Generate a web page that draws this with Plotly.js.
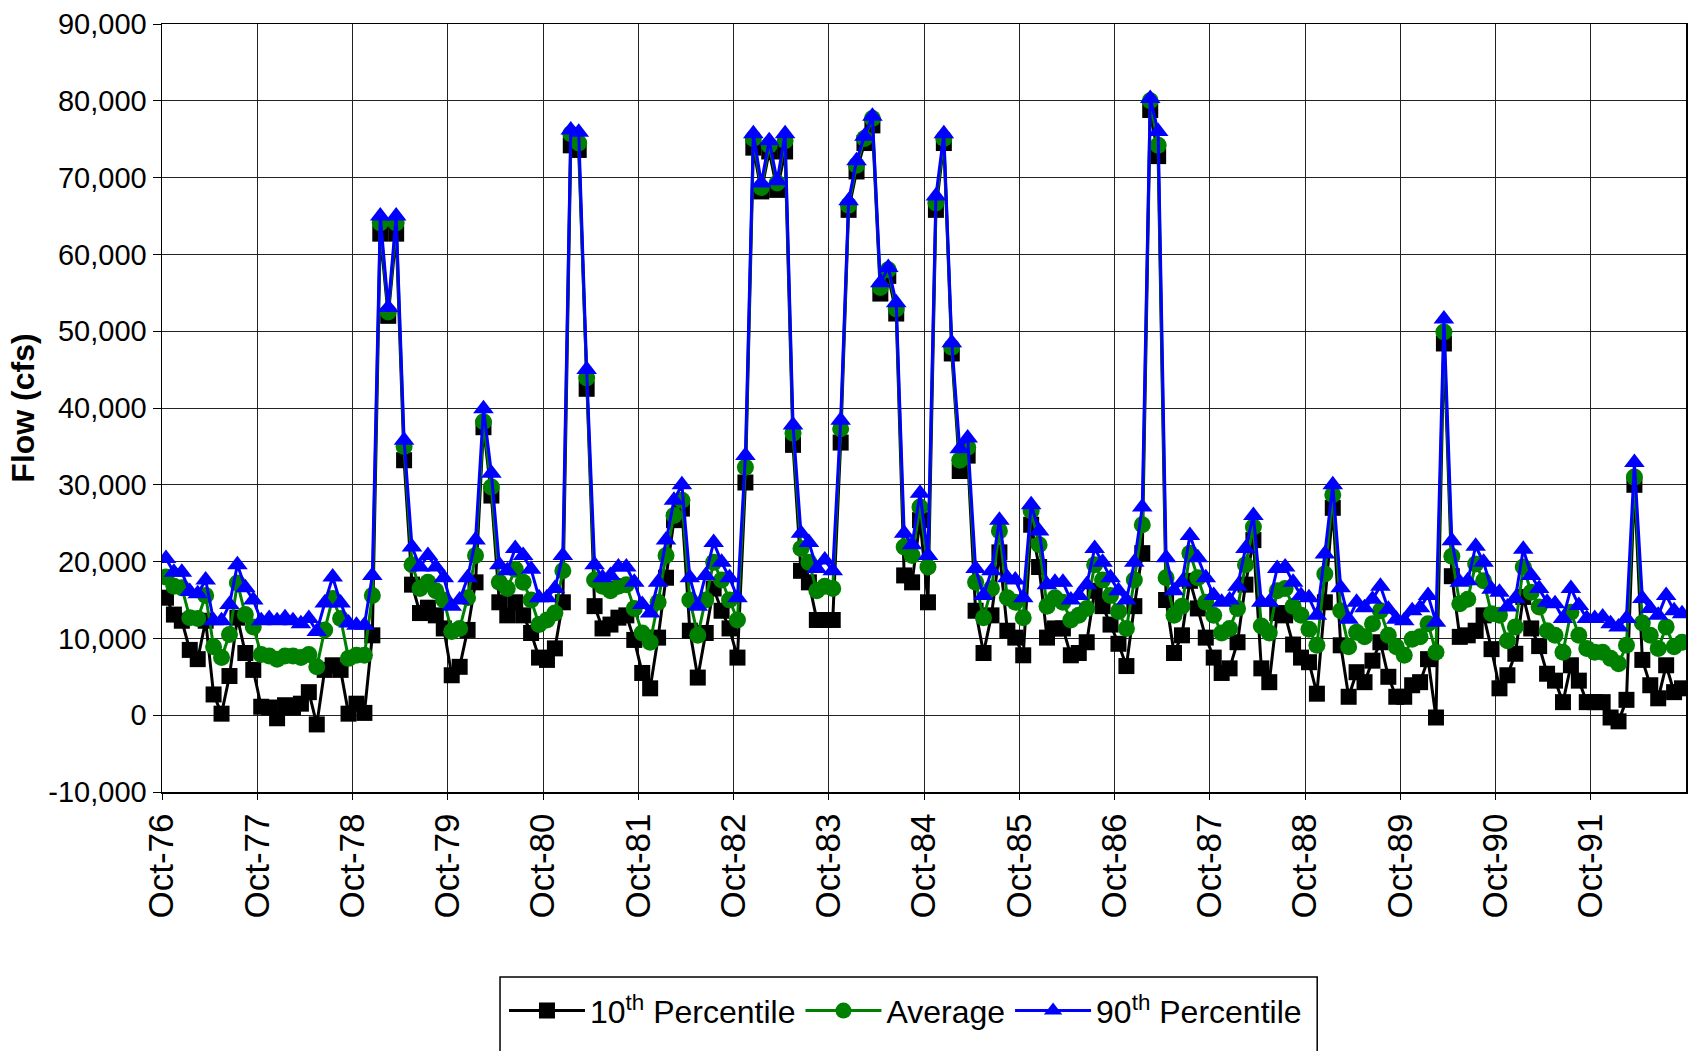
<!DOCTYPE html>
<html>
<head>
<meta charset="utf-8">
<script src="https://cdn.plot.ly/plotly-3.0.1.min.js"></script>
<style>
html,body{margin:0;padding:0;background:#fff;}
#chart{width:1699px;height:1051px;}
</style>
</head>
<body>
<div id="chart"></div>
<script>
// Monthly flow statistics, Oct-76 through Sep-92 (192 months)
const xTickLabels = ['Oct-76','Oct-77','Oct-78','Oct-79','Oct-80','Oct-81','Oct-82','Oct-83',
                     'Oct-84','Oct-85','Oct-86','Oct-87','Oct-88','Oct-89','Oct-90','Oct-91'];

const p10 = [
  15300,13100,12300,8500,7300,12300,2700,200,5100,12700,8100,5900,
  1100,1000,-400,1300,1000,1500,3000,-1200,5900,6500,5900,200,
  1500,300,10400,62700,52000,62700,33200,17000,13300,14000,13000,11300,
  5200,6300,11100,17300,37500,28600,14700,13000,14700,13000,10700,7500,
  7200,8700,14700,74200,73600,42500,14200,11300,11800,12700,13000,9800,
  5500,3500,10100,17900,25400,26900,11000,4900,10700,16500,13600,11300,
  7500,30300,73900,68200,73400,68400,73400,35200,18800,17300,12400,12400,
  12400,35500,65800,70800,74500,76800,54900,57200,52300,18200,17300,25400,
  14700,65800,74500,47100,31800,33800,13600,8100,13000,21200,11000,10100,
  7800,24800,19300,10100,11300,11300,7800,8100,9500,16200,14200,11800,
  9300,6400,14200,21100,78800,72800,15000,8100,10400,17500,13900,10100,
  7500,5500,6100,9500,17000,22800,6100,4300,13300,13000,9200,7500,
  6900,2800,14700,27000,9100,2400,5600,4300,7100,9500,5000,2400,
  2400,3900,4300,7300,-300,48400,18100,10200,10400,11000,13000,8600,
  3500,5200,8000,15400,11300,9000,5400,4500,1700,6500,4500,1700,
  1700,1700,-300,-800,2000,30000,7200,3900,2200,6500,3000,3500
];

const average = [
  18000,16800,16600,12700,12600,15600,8900,7500,10500,17200,13100,11500,
  7900,7700,7300,7700,7700,7500,7900,6300,11100,15200,12600,7400,
  7800,7800,15600,64100,52500,64100,35000,19600,16500,17300,16200,15000,
  10900,11300,15300,20800,38200,29700,17300,16500,19000,17300,15000,11800,
  12400,13300,18800,75700,74500,43900,17600,16800,16200,16800,17000,13900,
  10700,9500,14700,20800,26000,28000,15000,10400,15000,19900,17600,15000,
  12400,32300,75100,68700,74200,69300,74800,36700,21700,19900,16200,16800,
  16500,37300,66400,71600,75100,77700,55700,58000,52900,21900,20800,27100,
  19300,66700,75100,47900,33200,34900,17300,12700,16500,24000,15300,14700,
  12700,26600,22200,14200,15300,14700,12400,13000,13900,19600,17600,15600,
  13500,11300,17600,24800,80000,74200,17900,13000,14200,21100,17900,14700,
  13000,10700,11300,13900,19600,24500,11600,10700,16200,16500,14200,13000,
  11200,9100,18400,28700,13600,8900,10800,10200,11900,13600,10400,8900,
  7800,9900,10200,11900,8200,49900,20700,14500,15100,19700,17500,13200,
  13000,9700,11500,19300,16000,14100,11000,10400,8200,13400,10400,8700,
  8200,8200,7400,6700,9100,31000,12000,10400,8700,11500,8900,9500
];

const p90 = [
  20400,18600,18600,16100,15800,17600,12300,12300,14400,19600,16600,15000,
  12300,12600,12300,12700,12300,11900,12600,10900,14600,18000,14600,12000,
  11700,11700,18200,65000,53100,65000,35800,21900,19300,20800,19300,17900,
  14200,15000,17900,22800,39900,31500,19600,18800,21700,20800,19000,15300,
  15300,16500,20800,76200,75900,45000,19600,17900,18200,19300,19300,17300,
  14400,13300,17300,22800,28000,30000,17900,14200,18200,22500,19900,17900,
  15300,33800,75700,69300,74800,69600,75700,37800,23700,22500,19100,20200,
  18800,38400,67000,72200,75400,78000,56300,58300,53700,23700,22200,28900,
  20800,67600,75700,48500,34700,36100,19100,15600,18800,25400,17900,17600,
  15300,27400,24000,17000,17300,17300,15000,15600,17000,21700,19900,17900,
  16200,15000,19900,27100,80300,76000,20500,16200,17300,23400,20500,17900,
  15600,14700,15000,16800,21700,26000,14700,14700,19100,19300,17300,15600,
  15300,13000,21000,30000,16600,12500,14700,14000,15100,16800,13800,12500,
  12300,13600,14000,15600,12100,51600,22700,17300,17500,22000,19900,16400,
  16000,14100,15200,21600,18200,16500,14700,14500,12600,16500,14300,12600,
  12600,12800,11900,11500,12600,32900,15200,13900,13000,15600,13600,13200
];

const yTickVals = [-10000,0,10000,20000,30000,40000,50000,60000,70000,80000,90000];
const yTickText = ['-10,000','0','10,000','20,000','30,000','40,000','50,000','60,000','70,000','80,000','90,000'];

// month positions on a category-like numeric axis (each month centred in its slot)
const xPos = p10.map((_, i) => i + 0.5);
const xTickVals = xTickLabels.map((_, i) => i * 12);

const FONT = 'Liberation Sans, Arial, sans-serif';

const traces = [
  {
    x: xPos, y: p10, name: '10<sup>th</sup> Percentile', type: 'scatter', mode: 'lines+markers',
    line: {color: '#000000', width: 3},
    marker: {symbol: 'square', size: 16, color: '#000000'}
  },
  {
    x: xPos, y: average, name: 'Average', type: 'scatter', mode: 'lines+markers',
    line: {color: '#008000', width: 3},
    marker: {symbol: 'circle', size: 17, color: '#008000'}
  },
  {
    x: xPos, y: p90, name: '90<sup>th</sup> Percentile', type: 'scatter', mode: 'lines+markers',
    line: {color: '#0000FF', width: 3},
    marker: {symbol: 'triangle-up', size: 18, color: '#0000FF'}
  }
];

const layout = {
  width: 1699, height: 1051,
  paper_bgcolor: '#ffffff', plot_bgcolor: '#ffffff',
  margin: {l: 162, r: 13, t: 24, b: 259, autoexpand: false},
  font: {family: FONT, color: '#000000', size: 30},
  showlegend: true,
  legend: {
    orientation: 'h', x: 0.2244, xanchor: 'left', y: -0.249, yanchor: 'top',
    bgcolor: 'rgba(0,0,0,0)', borderwidth: 0,
    font: {family: FONT, size: 32, color: '#000000'},
    itemwidth: 76, tracegroupgap: 0
  },
  shapes: [{
    type: 'rect', xref: 'paper', yref: 'paper',
    x0: 0.2218, x1: 0.758, y0: -0.2409, y1: -0.36,
    line: {color: '#000000', width: 1.5}, fillcolor: 'rgba(0,0,0,0)', layer: 'below'
  }],
  xaxis: {
    range: [0, 192], tickmode: 'array', tickvals: xTickVals, ticktext: xTickLabels,
    tickangle: -90, tickfont: {family: FONT, size: 35, color: '#000'}, automargin: false,
    showgrid: true, gridcolor: '#222222', gridwidth: 1,
    showline: true, linecolor: '#000000', linewidth: 1.5, mirror: true,
    ticks: 'outside', ticklen: 6, tickcolor: '#000', zeroline: false, fixedrange: true
  },
  yaxis: {
    range: [-10000, 90000], tickmode: 'array', tickvals: yTickVals, ticktext: yTickText,
    tickfont: {family: FONT, size: 29, color: '#000'}, automargin: false,
    title: {text: 'Flow (cfs)', font: {family: FONT, size: 32, color: '#000', weight: 'bold'}, standoff: 4},
    showgrid: true, gridcolor: '#222222', gridwidth: 1,
    showline: true, linecolor: '#000000', linewidth: 1.5, mirror: true,
    ticks: 'outside', ticklen: 8, tickcolor: '#000', zeroline: false, fixedrange: true
  }
};

Plotly.newPlot('chart', traces, layout, {staticPlot: true, displayModeBar: false});
</script>
</body>
</html>
